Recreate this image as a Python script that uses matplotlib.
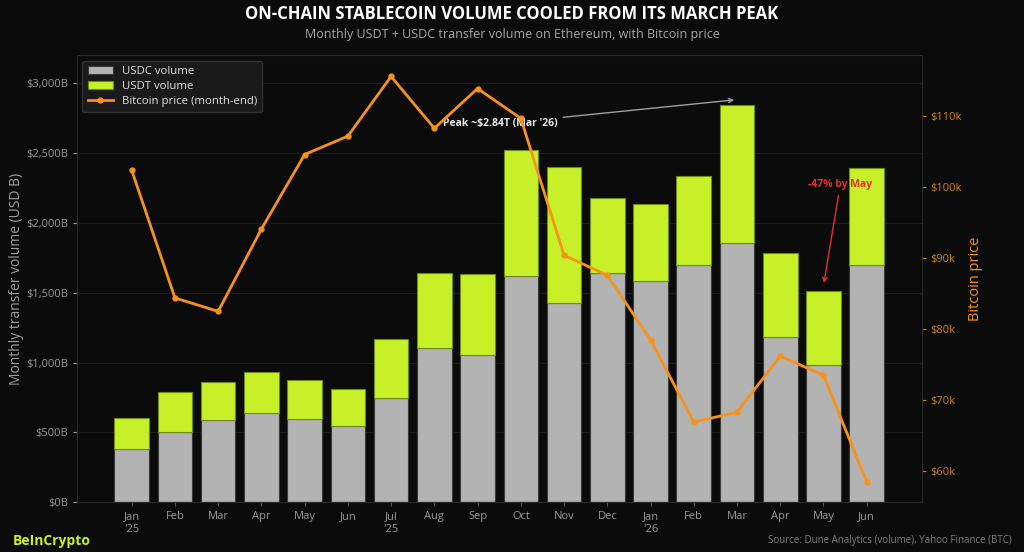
import matplotlib.pyplot as plt
import numpy as np

plt.rcParams['font.family'] = ['Open Sans', 'DejaVu Sans']

months = ["Jan\n'25", "Feb", "Mar", "Apr", "May", "Jun", "Jul\n'25", "Aug", "Sep",
          "Oct", "Nov", "Dec", "Jan\n'26", "Feb", "Mar", "Apr", "May", "Jun"]
usdc = [380, 501, 587, 637, 594, 544, 744, 1102, 1052, 1618, 1424, 1639,
        1582, 1696, 1854, 1181, 981, 1696]
total = [601, 787, 859, 930, 873, 809, 1167, 1639, 1632, 2520, 2398, 2176,
         2133, 2334, 2842, 1782, 1510, 2391]
btc = [102.4, 84.4, 82.5, 94.1, 104.6, 107.2, 115.6, 108.3, 113.9, 109.7, 90.4,
       87.6, 78.5, 66.9, 68.3, 76.2, 73.5, 58.5]

usdt = [t - c for t, c in zip(total, usdc)]
x = np.arange(len(months))

bg = '#0b0b0b'
grey = '#b3b3b3'
lime = '#c8f028'
orange = '#f7931a'

fig = plt.figure(figsize=(10.24, 5.52), dpi=100, facecolor=bg)
ax = fig.add_axes([0.075, 0.09, 0.825, 0.81])
ax.set_facecolor(bg)

ax.bar(x, usdc, width=0.8, color=grey, edgecolor='#3a3a3a', linewidth=0.8,
       label='USDC volume', zorder=2)
ax.bar(x, usdt, width=0.8, bottom=usdc, color=lime, edgecolor='#6a8a10',
       linewidth=0.8, label='USDT volume', zorder=2)

ax.set_ylim(0, 3200)
ax.set_xlim(-1.27, len(months) - 1 + 1.27)
ax.set_yticks([0, 500, 1000, 1500, 2000, 2500, 3000])
ax.set_yticklabels(['$0B', '$500B', '$1,000B', '$1,500B', '$2,000B', '$2,500B', '$3,000B'])
ax.set_xticks(x)
ax.set_xticklabels(months)
ax.tick_params(colors='#9a9a9a', labelsize=8, length=3)
ax.tick_params(axis='x', colors='#555555', labelcolor='#9a9a9a')
ax.grid(axis='y', color='#1c1c1c', linewidth=0.8, zorder=0)
for s in ax.spines.values():
    s.set_color('#2a2a2a')
ax.set_ylabel('Monthly transfer volume (USD B)', color='#a0a0a0', fontsize=10, labelpad=1)

ax2 = ax.twinx()
line, = ax2.plot(x, btc, color=orange, linewidth=2, marker='o', markersize=3.5,
                 label='Bitcoin price (month-end)', zorder=3)
ax2.set_ylim(55.6, 118.6)
ax2.set_yticks([60, 70, 80, 90, 100, 110])
ax2.set_yticklabels(['$60k', '$70k', '$80k', '$90k', '$100k', '$110k'])
ax2.tick_params(colors='#d08418', labelsize=8, length=3)
for s in ax2.spines.values():
    s.set_color('#2a2a2a')
ax2.set_ylabel('Bitcoin price', color=orange, fontsize=10.5, labelpad=4)

h1, l1 = ax.get_legend_handles_labels()
leg = ax.legend(h1 + [line], l1 + [line.get_label()], loc='upper left',
                facecolor='#1a1a1a', edgecolor='#333333', fontsize=8.2,
                labelcolor='#e0e0e0', framealpha=1, labelspacing=0.35,
                borderpad=0.45, handlelength=2.2)

pk = int(np.argmax(total))
ax.annotate("Peak ~$2.84T (Mar '26)", xy=(pk, total[pk] + 40), xytext=(7.2, 2710),
            color='#e8e8e8', fontsize=7.5, fontweight='bold', ha='left', va='center',
            arrowprops=dict(arrowstyle='->', color='#a0a0a0', lw=1), zorder=5)
ax.annotate('-47% by May', xy=(16, total[16] + 40), xytext=(16.39, 2276),
            color='#e03030', fontsize=7.5, fontweight='bold', ha='center', va='center',
            arrowprops=dict(arrowstyle='->', color='#e03030', lw=1), zorder=5)

fig.text(0.5, 0.975, 'ON-CHAIN STABLECOIN VOLUME COOLED FROM ITS MARCH PEAK',
         ha='center', va='center', color='white', fontsize=12, fontweight='bold')
fig.text(0.5, 0.937, 'Monthly USDT + USDC transfer volume on Ethereum, with Bitcoin price',
         ha='center', va='center', color='#a8a8a8', fontsize=9)
fig.text(0.012, 0.02, 'BeInCrypto', ha='left', va='center', color=lime,
         fontsize=10, fontweight='bold')
fig.text(0.988, 0.02, 'Source: Dune Analytics (volume), Yahoo Finance (BTC)',
         ha='right', va='center', color='#808080', fontsize=7)

fig.savefig('out.png', dpi=100, facecolor=bg)
